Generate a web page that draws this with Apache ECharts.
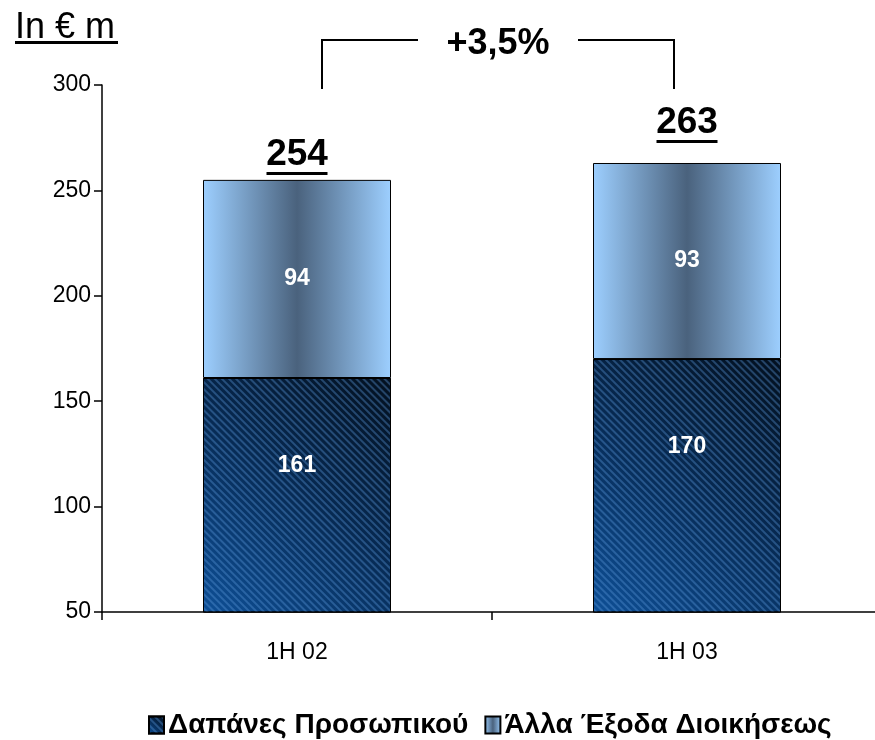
<!DOCTYPE html>
<html>
<head>
<meta charset="utf-8">
<script src="https://cdn.jsdelivr.net/npm/echarts@6/dist/echarts.min.js"></script>
<style>
html,body{margin:0;padding:0;background:#fff;overflow:hidden;width:875px;height:740px;}
#chart{width:883px;height:740px;}
</style>
</head>
<body>
<div id="chart"></div>
<script>
const categories = ['1H 02', '1H 03'];
const personnel = [161, 170];
const otherAdmin = [94, 93];
const totals = [254, 263];
const seriesNames = ['Δαπάνες Προσωπικού', 'Άλλα Έξοδα Διοικήσεως'];
const yTicks = {min: 50, max: 300, interval: 50};
const growthLabel = '+3,5%';
const unitLabel = 'In € m';

const FONT = '"Liberation Sans", Arial, sans-serif';
const chart = echarts.init(document.getElementById('chart'), null, {renderer: 'canvas'});

const darkFill = new echarts.graphic.LinearGradient(1, 0, 0, 1, [
  {offset: 0, color: '#03101f'},
  {offset: 0.5, color: '#072b55'},
  {offset: 1, color: '#0e4f96'}
]);
const lightFill = new echarts.graphic.LinearGradient(0, 0, 1, 0, [
  {offset: 0, color: '#9dcfff'},
  {offset: 0.5, color: '#4a627d'},
  {offset: 1, color: '#9dcfff'}
]);

// label gap above each stack (styling, not data)
const totalLabelGap = [7, 20];
const totalItems = totals.map((v, i) => ({value: v, label: {distance: totalLabelGap[i]}}));

const option = {
  animation: false,
  grid: {left: 102, top: 85, height: 527, width: 780, containLabel: false},
  legend: {
    left: 143, top: 706,
    icon: 'rect',
    itemWidth: 15, itemHeight: 17, itemGap: 16,
    textStyle: {fontFamily: FONT, fontWeight: 'bold', fontSize: 28, color: '#000', padding: [0, 0, 0, -1]},
    data: seriesNames
  },
  xAxis: {
    type: 'category',
    data: categories,
    axisLine: {lineStyle: {color: '#000', width: 1.5}},
    axisTick: {show: true, length: 8, lineStyle: {color: '#000', width: 1.5}},
    axisLabel: {margin: 29, fontFamily: FONT, fontSize: 23, color: '#000'}
  },
  yAxis: {
    type: 'value',
    min: yTicks.min, max: yTicks.max, interval: yTicks.interval,
    splitLine: {show: false},
    axisLine: {show: true, lineStyle: {color: '#000', width: 1.5}},
    axisTick: {show: true, length: 8, lineStyle: {color: '#000', width: 1.5}},
    axisLabel: {margin: 11, fontFamily: FONT, fontSize: 23, color: '#000'}
  },
  series: [
    {
      name: seriesNames[0],
      type: 'bar',
      stack: 'total',
      barWidth: 188,
      data: personnel,
      itemStyle: {
        color: darkFill,
        borderColor: '#000',
        borderWidth: 1,
        decal: {
          symbol: 'rect', symbolSize: 1,
          color: 'rgba(90,150,215,0.38)',
          dashArrayX: [1, 0], dashArrayY: [1.5, 2.5],
          rotation: Math.PI / 4
        }
      },
      label: {
        show: true, position: 'insideTop', distance: 76,
        color: '#fff', fontFamily: FONT, fontWeight: 'bold', fontSize: 23
      }
    },
    {
      name: seriesNames[1],
      type: 'bar',
      stack: 'total',
      barWidth: 188,
      data: otherAdmin,
      itemStyle: {color: lightFill, borderColor: '#000', borderWidth: 1},
      label: {
        show: true, position: 'inside',
        color: '#fff', fontFamily: FONT, fontWeight: 'bold', fontSize: 23
      }
    },
    {
      name: 'totals',
      type: 'scatter',
      symbolSize: 0,
      silent: true,
      data: totalItems,
      itemStyle: {color: '#000', opacity: 1},
      label: {
        show: true, position: 'top', distance: 7,
        color: '#000', opacity: 1, textBorderWidth: 0,
        formatter: p => '{a|' + p.value + '}\n{u|}',
        rich: {
          a: {fontFamily: FONT, fontWeight: 'bold', fontSize: 37, color: '#000', lineHeight: 34, textBorderWidth: 0},
          u: {width: 61, height: 3, backgroundColor: '#000', lineHeight: 3}
        }
      }
    }
  ],
  graphic: [
    {type: 'text', left: 15, top: 10, style: {text: unitLabel, fontFamily: FONT, fontSize: 36, fill: '#000'}},
    {type: 'rect', shape: {x: 15, y: 41, width: 103, height: 3}, style: {fill: '#000'}},
    {type: 'polyline', shape: {points: [[322, 89], [322, 40], [418, 40]]}, style: {stroke: '#000', lineWidth: 2, fill: null}},
    {type: 'polyline', shape: {points: [[578, 40], [674, 40], [674, 89]]}, style: {stroke: '#000', lineWidth: 2, fill: null}},
    {type: 'text', x: 498, y: 44, style: {text: growthLabel, fontFamily: FONT, fontWeight: 'bold', fontSize: 36, fill: '#000', align: 'center', verticalAlign: 'middle'}}
  ]
};
chart.setOption(option);
</script>
</body>
</html>
